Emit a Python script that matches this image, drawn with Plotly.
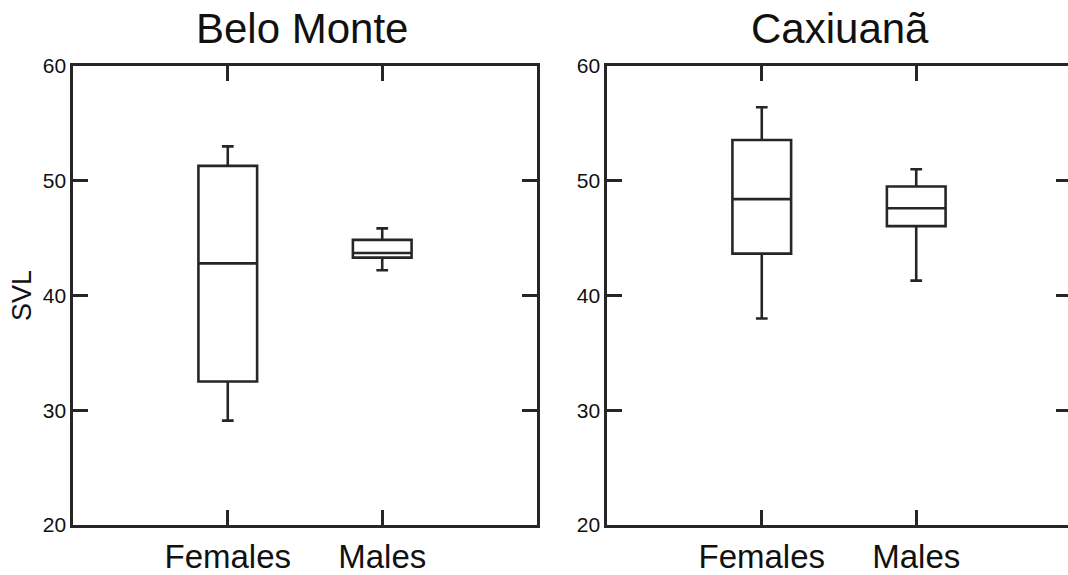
import plotly.graph_objects as go

# ---- data ----
categories = ["Females", "Males"]

belo_lower = [29.1, 42.2]
belo_q1 = [32.5, 43.3]
belo_median = [42.8, 43.7]
belo_q3 = [51.3, 44.85]
belo_upper = [53.0, 45.85]

cax_lower = [38.0, 41.3]
cax_q1 = [43.65, 46.05]
cax_median = [48.4, 47.6]
cax_q3 = [53.55, 49.5]
cax_upper = [56.4, 51.0]

panel_titles = ["Belo Monte", "Caxiuanã"]
y_title = "SVL"
y_ticks = [20, 30, 40, 50, 60]

# ---- figure ----
# The figure is a little wider than the 1068 px window so that the right
# frame line of the second panel falls just outside the visible page,
# as in the reference.
W, H = 1078, 575
LINE = "#262626"
FONT = "Liberation Sans, Arial, sans-serif"

fig = go.Figure()

box_style = dict(
    boxpoints=False,
    fillcolor="white",
    line=dict(color=LINE, width=2.6),
    whiskerwidth=0.2,
    width=0.38,
    showlegend=False,
    hoverinfo="skip",
)

fig.add_trace(go.Box(
    x=categories, q1=belo_q1, median=belo_median, q3=belo_q3,
    lowerfence=belo_lower, upperfence=belo_upper,
    xaxis="x", yaxis="y", **box_style))
fig.add_trace(go.Box(
    x=categories, q1=cax_q1, median=cax_median, q3=cax_q3,
    lowerfence=cax_lower, upperfence=cax_upper,
    xaxis="x2", yaxis="y2", **box_style))

left_dom = [73.3 / W, 536.7 / W]
right_dom = [607.3 / W, 1070.7 / W]

xcommon = dict(
    type="category", range=[-1, 2], showgrid=False, zeroline=False,
    showline=True, linecolor=LINE, linewidth=3, mirror="ticks",
    ticks="inside", ticklen=15, tickwidth=2.6, tickcolor=LINE,
    tickfont=dict(family=FONT, size=33, color="#111111"),
)
ycommon = dict(
    range=[20, 60], tickvals=y_ticks, showgrid=False, zeroline=False,
    showline=True, linecolor=LINE, linewidth=3, mirror="ticks",
    ticks="inside", ticklen=15, tickwidth=2.6, tickcolor=LINE,
    tickfont=dict(family=FONT, size=21, color="#111111"),
)

fig.update_layout(
    width=W, height=H,
    margin=dict(l=0, r=0, t=66, b=45),
    paper_bgcolor="white", plot_bgcolor="white",
    xaxis=dict(domain=left_dom, anchor="y", **xcommon),
    yaxis=dict(domain=[0, 1], anchor="x",
               title=dict(text=y_title, font=dict(family=FONT, size=27, color="#111111"), standoff=4),
               **ycommon),
    xaxis2=dict(domain=right_dom, anchor="y2", **xcommon),
    yaxis2=dict(domain=[0, 1], anchor="x2", **ycommon),
    annotations=[
        dict(text=panel_titles[0], x=302 / W, y=1, xref="paper", yref="paper",
             xanchor="center", yanchor="bottom", yshift=12, showarrow=False,
             font=dict(family=FONT, size=42, color="#111111")),
        dict(text=panel_titles[1], x=840 / W, y=1, xref="paper", yref="paper",
             xanchor="center", yanchor="bottom", yshift=12, showarrow=False,
             font=dict(family=FONT, size=42, color="#111111")),
    ],
)

fig.write_html(
    "out.html",
    config={"displayModeBar": False},
    post_script="document.body.style.margin='0';document.body.style.overflow='hidden';",
)
